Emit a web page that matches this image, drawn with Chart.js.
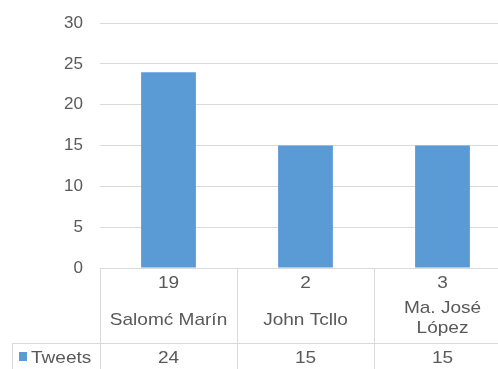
<!DOCTYPE html>
<html>
<head>
<meta charset="utf-8">
<script src="https://cdn.jsdelivr.net/npm/chart.js@4.4.0/dist/chart.umd.min.js"></script>
<style>
  html, body { margin: 0; padding: 0; background: #fff; }
  #wrap { width: 498px; height: 369px; overflow: hidden; position: relative; }
  #wrap canvas { position: absolute; left: 0; top: -4px; }
</style>
</head>
<body>
<div id="wrap"><canvas id="tweets-chart" width="512" height="373"></canvas></div>
<script>
// Names shown in the table under each bar, with the number row above them
const categories = ['Salomć Marín', 'John Tcllo', ['Ma. José', 'López']];
const groupNumbers = ['19', '2', '3'];
const seriesName = 'Tweets';
const tweets = [24, 15, 15];
const yMin = 0;
const yMax = 30;
const yStep = 5;

const textColor = '#595959';
const gridColor = '#d9d9d9';
const barColor = '#5b9bd5';
const fontFamily = '"Liberation Sans", Arial, sans-serif';

// draw text a bit wider than the font's natural width
function wideText(ctx, text, x, y) {
  ctx.save();
  ctx.translate(x, y);
  ctx.scale(1.12, 1);
  ctx.fillText(text, 0, 0);
  ctx.restore();
}

// data table under the plot: numbers, names and the series values
const dataTable = {
  id: 'dataTable',
  afterDraw(chart) {
    const ctx = chart.ctx;
    const area = chart.chartArea;
    const xScale = chart.scales.x;
    const n = categories.length;
    const colW = area.width / n;
    const rowY = area.bottom + 75;
    const bottom = chart.height;

    ctx.save();
    ctx.strokeStyle = gridColor;
    ctx.lineWidth = 1;
    ctx.beginPath();
    for (let i = 0; i <= n; i++) {
      const lx = Math.round(area.left + i * colW) + 0.5;
      ctx.moveTo(lx, area.bottom);
      ctx.lineTo(lx, bottom);
    }
    ctx.moveTo(12.5, rowY);
    ctx.lineTo(12.5, bottom);
    ctx.moveTo(12, rowY + 0.5);
    ctx.lineTo(area.right, rowY + 0.5);
    ctx.stroke();

    ctx.fillStyle = textColor;
    ctx.font = '17px ' + fontFamily;
    ctx.textAlign = 'center';
    ctx.textBaseline = 'middle';
    categories.forEach((name, i) => {
      const cx = xScale.getPixelForValue(i);
      wideText(ctx, groupNumbers[i], cx, area.bottom + 15);
      if (Array.isArray(name)) {
        wideText(ctx, name[0], cx, area.bottom + 40);
        wideText(ctx, name[1], cx, area.bottom + 60);
      } else {
        wideText(ctx, name, cx, area.bottom + 52);
      }
      wideText(ctx, String(tweets[i]), cx, rowY + 15);
    });

    // legend key in the series row
    ctx.fillStyle = barColor;
    ctx.fillRect(19, rowY + 9, 8, 9);
    ctx.fillStyle = textColor;
    ctx.textAlign = 'left';
    wideText(ctx, seriesName, 31, rowY + 15);
    ctx.restore();
  }
};

const ctx = document.getElementById('tweets-chart').getContext('2d');
const tweetsChart = new Chart(ctx, {
  type: 'bar',
  data: {
    labels: categories,
    datasets: [{
      label: seriesName,
      data: tweets,
      backgroundColor: barColor,
      barPercentage: 0.4,
      categoryPercentage: 1.0
    }]
  },
  options: {
    responsive: false,
    animation: false,
    layout: {
      padding: { top: 15, bottom: 101, left: 0, right: 1 }
    },
    scales: {
      x: {
        display: false
      },
      y: {
        min: yMin,
        max: yMax,
        ticks: {
          stepSize: yStep,
          color: textColor,
          padding: 17,
          font: { family: fontFamily, size: 17 }
        },
        grid: {
          color: gridColor,
          drawTicks: false
        },
        border: { display: false },
        afterFit(scale) {
          scale.width = 100;
        }
      }
    },
    plugins: {
      legend: { display: false },
      tooltip: { enabled: false }
    }
  },
  plugins: [dataTable]
});
</script>
</body>
</html>
